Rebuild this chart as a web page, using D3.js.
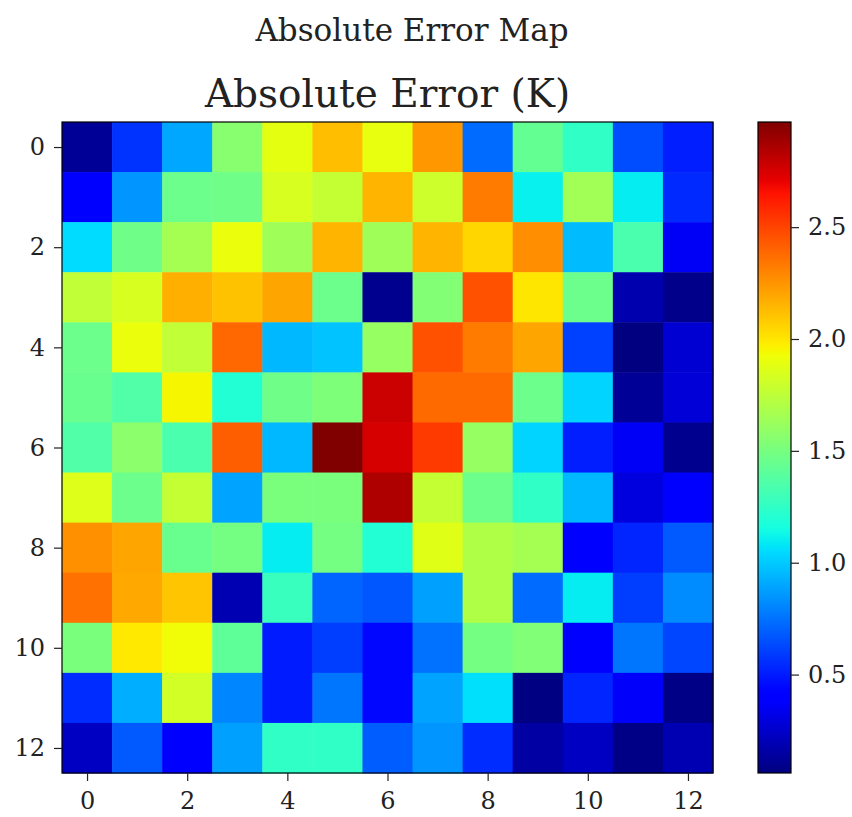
<!DOCTYPE html>
<html>
<head>
<meta charset="utf-8">
<script src="https://cdn.jsdelivr.net/npm/d3@7"></script>
<style>
  body { margin: 0; background: #fff; }
  svg text { font-family: "DejaVu Serif", serif; fill: #222; }
</style>
</head>
<body>
<svg id="chart"></svg>
<script>
// 13x13 absolute error grid, row 0 at top
const rows = d3.range(13);
const cols = d3.range(13);
const errors = [
  [0.12, 0.57, 0.90, 1.56, 1.89, 2.12, 1.90, 2.24, 0.73, 1.43, 1.25, 0.64, 0.51],
  [0.39, 0.85, 1.46, 1.47, 1.84, 1.77, 2.15, 1.80, 2.33, 1.11, 1.65, 1.10, 0.54],
  [1.05, 1.47, 1.66, 1.91, 1.64, 2.15, 1.64, 2.15, 2.05, 2.27, 0.96, 1.34, 0.36],
  [1.76, 1.84, 2.17, 2.11, 2.20, 1.46, 0.10, 1.54, 2.46, 2.00, 1.46, 0.18, 0.09],
  [1.46, 1.91, 1.76, 2.39, 0.95, 0.98, 1.61, 2.46, 2.33, 2.20, 0.61, 0.06, 0.27],
  [1.45, 1.36, 1.95, 1.20, 1.47, 1.52, 2.78, 2.38, 2.38, 1.46, 1.03, 0.12, 0.28],
  [1.36, 1.57, 1.34, 2.42, 0.95, 2.97, 2.75, 2.53, 1.61, 1.03, 0.51, 0.36, 0.10],
  [1.86, 1.46, 1.77, 0.89, 1.51, 1.51, 2.85, 1.77, 1.46, 1.25, 0.95, 0.30, 0.38],
  [2.26, 2.20, 1.45, 1.49, 1.10, 1.49, 1.20, 1.87, 1.70, 1.66, 0.40, 0.53, 0.68],
  [2.36, 2.19, 2.10, 0.19, 1.28, 0.71, 0.67, 0.88, 1.70, 0.73, 1.10, 0.60, 0.82],
  [1.51, 1.99, 1.93, 1.41, 0.50, 0.60, 0.44, 0.75, 1.49, 1.53, 0.40, 0.76, 0.62],
  [0.55, 0.92, 1.82, 0.81, 0.50, 0.76, 0.44, 0.89, 1.06, 0.07, 0.53, 0.37, 0.08],
  [0.23, 0.68, 0.40, 0.88, 1.25, 1.25, 0.69, 0.85, 0.55, 0.15, 0.23, 0.08, 0.19]
];
const axisTicks = [0, 2, 4, 6, 8, 10, 12];
const cbarTicks = [0.5, 1.0, 1.5, 2.0, 2.5];
const suptitle = "Absolute Error Map";
const title = "Absolute Error (K)";

// matplotlib "jet" segment data
const jetSeg = {
  r: [[0, 0], [0.35, 0], [0.66, 1], [0.89, 1], [1, 0.5]],
  g: [[0, 0], [0.125, 0], [0.375, 1], [0.64, 1], [0.91, 0], [1, 0]],
  b: [[0, 0.5], [0.11, 1], [0.34, 1], [0.65, 0], [1, 0]]
};
const seg = (pts, t) => {
  for (let i = 1; i < pts.length; i++) {
    if (t <= pts[i][0]) {
      const [x0, y0] = pts[i - 1], [x1, y1] = pts[i];
      return y0 + (y1 - y0) * (t - x0) / (x1 - x0);
    }
  }
  return pts[pts.length - 1][1];
};
const jet = t => {
  t = Math.max(0, Math.min(1, t));
  return d3.rgb(255 * seg(jetSeg.r, t), 255 * seg(jetSeg.g, t), 255 * seg(jetSeg.b, t)).formatHex();
};

const width = 852, height = 817;
const plot = { left: 62, right: 713, top: 122, bottom: 773 };
const cbar = { left: 758, right: 791 };

const allVals = errors.flat();
const [vmin, vmax] = d3.extent(allVals);
const color = d3.scaleSequential(jet).domain([vmin, vmax]);

const x = d3.scaleLinear().domain([-0.5, 12.5]).range([plot.left, plot.right]);
const y = d3.scaleLinear().domain([-0.5, 12.5]).range([plot.top, plot.bottom]);

const svg = d3.select("#chart").attr("width", width).attr("height", height);

svg.append("text")
  .attr("x", 412).attr("y", 41)
  .attr("text-anchor", "middle")
  .style("font-size", "31px")
  .text(suptitle);

svg.append("text")
  .attr("x", (plot.left + plot.right) / 2).attr("y", 107)
  .attr("text-anchor", "middle")
  .style("font-size", "39px")
  .text(title);

// Draw cells
const cells = [];
rows.forEach(r => cols.forEach(c => cells.push({ r, c, v: errors[r][c] })));

svg.append("g")
  .selectAll("rect")
  .data(cells)
  .join("rect")
  .attr("x", d => x(d.c - 0.5))
  .attr("y", d => y(d.r - 0.5))
  .attr("width", d => x(d.c + 0.5) - x(d.c - 0.5) + 0.5)
  .attr("height", d => y(d.r + 0.5) - y(d.r - 0.5) + 0.5)
  .attr("fill", d => color(d.v));

svg.append("rect")
  .attr("x", plot.left).attr("y", plot.top)
  .attr("width", plot.right - plot.left).attr("height", plot.bottom - plot.top)
  .attr("fill", "none").attr("stroke", "#000").attr("stroke-width", 1.2);

// Axes
const xAxis = svg.append("g")
  .attr("transform", `translate(0,${plot.bottom})`)
  .call(d3.axisBottom(x).tickValues(axisTicks).tickSize(8).tickPadding(11));
const yAxis = svg.append("g")
  .attr("transform", `translate(${plot.left},0)`)
  .call(d3.axisLeft(y).tickValues(axisTicks).tickSize(8).tickPadding(9));

[xAxis, yAxis].forEach(g => {
  g.select(".domain").remove();
  g.selectAll("text").style("font-size", "24px").attr("fill", "#222");
  g.selectAll("line").attr("stroke", "#222").attr("stroke-width", 1.2);
});

// Colorbar
const cy = d3.scaleLinear().domain([vmin, vmax]).range([plot.bottom, plot.top]);
const grad = svg.append("defs").append("linearGradient")
  .attr("id", "jetgrad")
  .attr("x1", 0).attr("y1", 1).attr("x2", 0).attr("y2", 0);
grad.selectAll("stop")
  .data(d3.range(0, 1.0001, 0.01))
  .join("stop")
  .attr("offset", d => d)
  .attr("stop-color", d => jet(d));

svg.append("rect")
  .attr("x", cbar.left).attr("y", plot.top)
  .attr("width", cbar.right - cbar.left).attr("height", plot.bottom - plot.top)
  .attr("fill", "url(#jetgrad)")
  .attr("stroke", "#000").attr("stroke-width", 1.2);

const cAxis = svg.append("g")
  .attr("transform", `translate(${cbar.right},0)`)
  .call(d3.axisRight(cy).tickValues(cbarTicks).tickFormat(d3.format(".1f")).tickSize(8).tickPadding(9));
cAxis.select(".domain").remove();
cAxis.selectAll("text").style("font-size", "24px").attr("fill", "#222");
cAxis.selectAll("line").attr("stroke", "#222").attr("stroke-width", 1.2);
</script>
</body>
</html>
